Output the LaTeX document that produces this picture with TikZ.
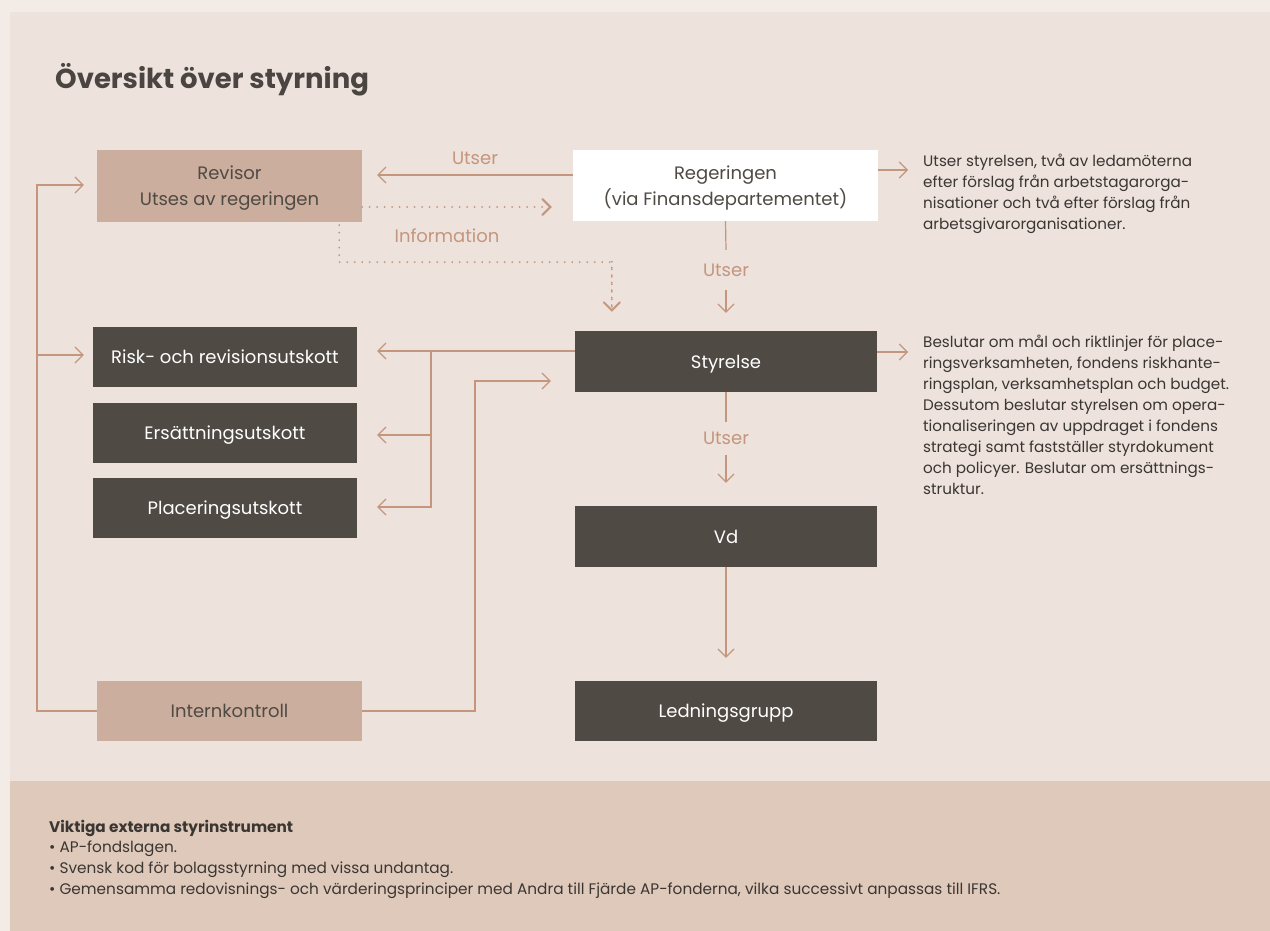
\documentclass[tikz,border=0pt]{standalone}
\usepackage{fontspec}
\setmainfont{Poppins}
\usetikzlibrary{arrows.meta,calc}
\definecolor{outerbg}{HTML}{F3EBE6}
\definecolor{panelbg}{HTML}{EDE2DC}
\definecolor{bottombg}{HTML}{DFC9BB}
\definecolor{boxdark}{HTML}{4F4A44}
\definecolor{boxtan}{HTML}{CBAE9D}
\definecolor{arrowc}{HTML}{C4967D}
\definecolor{textdark}{HTML}{3A3632}
\definecolor{titlec}{HTML}{4A4540}
\tikzset{
  darkbox/.style={fill=boxdark, text=white, inner sep=0pt, minimum width=302pt, minimum height=61pt, align=center, text depth=0pt, font=\fontsize{18}{26}\selectfont},
  tanbox/.style={fill=boxtan, text=boxdark, inner sep=0pt, minimum width=265pt, minimum height=60pt, align=center, text depth=0pt, font=\fontsize{18}{26}\selectfont},
  whitebox/.style={fill=white, text=boxdark, inner sep=0pt, minimum width=305pt, minimum height=71pt, align=center, text depth=0pt, font=\fontsize{18}{26}\selectfont},
  lbl/.style={text=arrowc, inner sep=0pt, font=\fontsize{18}{20}\selectfont},
  note/.style={text=textdark, inner sep=0pt, align=left, anchor=north west, font=\fontsize{15.2}{21}\selectfont},
  bottomtext/.style={anchor=base west, inner sep=0pt, text=textdark, font=\fontsize{15.3}{20.7}\selectfont},
  plainline/.style={draw=arrowc, line width=1.2pt},
  conn/.style={draw=arrowc, line width=1.2pt, -{Straight Barb[length=8pt,width=16pt]}},
  dotconn/.style={draw=arrowc, line width=2pt, line cap=round, dash pattern=on 0pt off 7.5pt, -{Straight Barb[length=8pt,width=16pt,line cap=round]}},
  dotline/.style={draw=arrowc, line width=2pt, line cap=round, dash pattern=on 0pt off 7.5pt}
}
\begin{document}
\begin{tikzpicture}[x=1pt,y=-1pt]
\useasboundingbox (0,0) rectangle (1270,931);
\fill[outerbg] (0,0) rectangle (1270,931);
\fill[panelbg] (10,12) rectangle (1270,781);
\fill[bottombg] (10,781) rectangle (1270,931);

\node[anchor=base west, inner sep=0pt, text=titlec, font=\fontsize{27.5}{32}\selectfont\bfseries] (title) at (55,89) {Översikt över styrning};

% boxes
\node[tanbox, minimum height=72pt] (rev) at (229.5,186) {Revisor\\Utses av regeringen};
\node[whitebox] (reg) at (725.5,185.5) {Regeringen\\(via Finansdepartementet)};
\node[darkbox] (sty) at (726,361.5) {Styrelse};
\node[darkbox] (vd) at (726,536.5) {Vd};
\node[darkbox, minimum height=60pt] (led) at (726,711) {Ledningsgrupp};
\node[darkbox, minimum width=264pt, minimum height=60pt] (risk) at (225,357) {Risk- och revisionsutskott};
\node[darkbox, minimum width=264pt, minimum height=60pt] (ers) at (225,433) {Ersättningsutskott};
\node[darkbox, minimum width=264pt, minimum height=60pt] (plac) at (225,508) {Placeringsutskott};
\node[tanbox] (ink) at (229.5,711) {Internkontroll};

% notes
\node[note] (t1) at (923,154) {Utser styrelsen, två av ledamöterna\\efter förslag från arbetstagarorga-\\nisationer och två efter förslag från\\arbetsgivarorganisationer.};
\node[note] (t2) at (923,335) {Beslutar om mål och riktlinjer för place-\\ringsverksamheten, fondens riskhante-\\ringsplan, verksamhetsplan och budget.\\Dessutom beslutar styrelsen om opera-\\tionaliseringen av uppdraget i fondens\\strategi samt fastställer styrdokument\\och policyer. Beslutar om ersättnings-\\struktur.};

% labels
\node[lbl] (u1) at (475,158) {Utser};
\node[lbl] (info) at (447,236) {Information};
\node[lbl, minimum height=40pt] (u2) at (726,270) {Utser};
\node[lbl, minimum height=33pt] (u3) at (726,438.5) {Utser};

% connectors
\draw[conn, shorten >=15pt] (reg.west |- 0,175) -- (rev.east |- 0,175);
\draw[dotconn, shorten >=21pt] (rev.east |- 0,207) -- (reg.west |- 0,207);
\coordinate (ds) at ($(rev.south east)+(-23,3)$);
\draw[dotline] (ds) -- ++(0,37) -| ($(sty.north west)+(37,-19)$);
\draw[dotconn, shorten >=19pt] ($(sty.north west)+(37,-69)$) -- ($(sty.north west)+(37,0)$);

\draw[plainline] (reg.south) -- (u2.north);
\draw[conn, shorten >=18pt] (u2.south) -- (sty.north);
\draw[plainline] (sty.south) -- (u3.north);
\draw[conn, shorten >=23pt] (u3.south) -- (vd.north);
\draw[conn, shorten >=23pt] (vd.south) -- (led.north);

\draw[conn, shorten >=15pt] (reg.east |- 0,170) -- (t1.west |- 0,170);
\draw[conn, shorten >=15pt] (sty.east |- 0,352) -- (t2.west |- 0,352);

\coordinate (br) at (431,351);
\draw[conn, shorten >=20pt] (sty.west |- 0,351) -- (risk.east |- 0,351);
\draw[conn, shorten >=20pt] (br) |- (plac.east |- 0,507);
\draw[conn, shorten >=20pt] (br |- 0,435) -- (ers.east |- 0,435);

\coordinate (ik) at (475,381);
\draw[conn, shorten >=24pt] (ink.east) -| (ik) -- (sty.west |- ik);

\coordinate (lk) at (37,185);
\draw[conn, shorten >=13pt] (ink.west) -| (lk) -- (rev.west |- lk);
\draw[conn, shorten >=9pt] (lk |- 0,355) -- (risk.west |- 0,355);

% bottom text
\node[bottomtext, font=\fontsize{15.3}{20.7}\selectfont\bfseries] (bt) at (49,832) {Viktiga externa styrinstrument};
\node[bottomtext] (b1) at (49,852.7) {• AP-fondslagen.};
\node[bottomtext] (b2) at (49,873.4) {• Svensk kod för bolagsstyrning med vissa undantag.};
\node[bottomtext] (b3) at (49,894.1) {• Gemensamma redovisnings- och värderingsprinciper med Andra till Fjärde AP-fonderna, vilka successivt anpassas till IFRS.};
\end{tikzpicture}
\end{document}
